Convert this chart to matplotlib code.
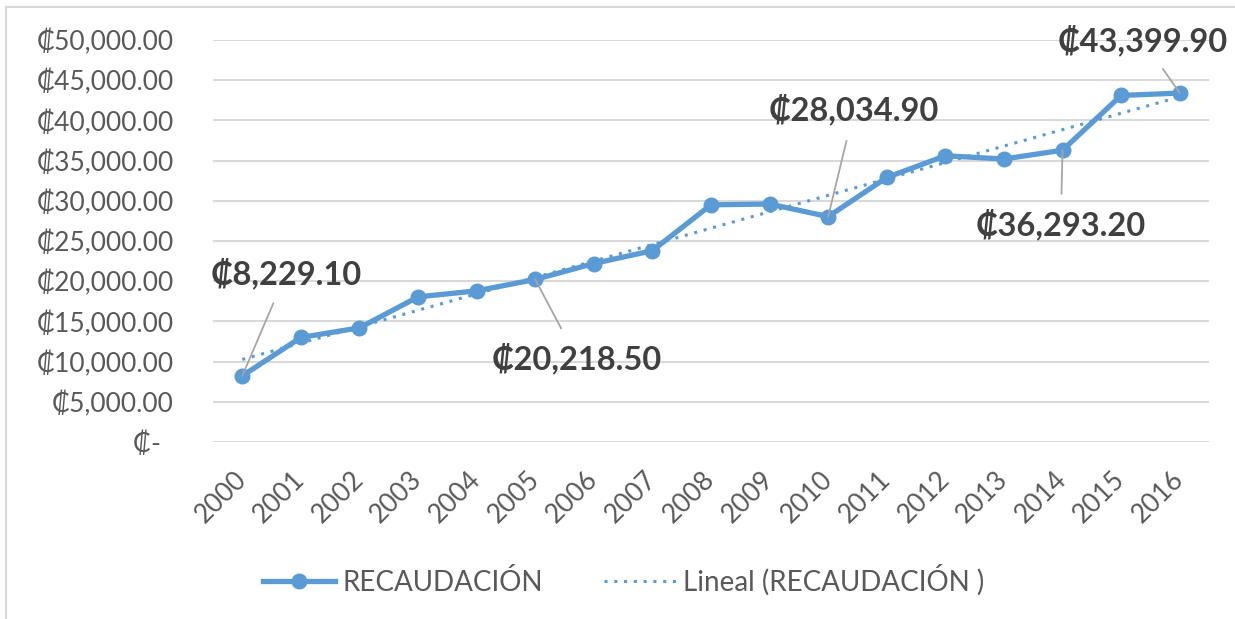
import matplotlib
matplotlib.use('Agg')
import matplotlib.pyplot as plt
import numpy as np

# Datos
years = ['2000', '2001', '2002', '2003', '2004', '2005', '2006', '2007', '2008',
         '2009', '2010', '2011', '2012', '2013', '2014', '2015', '2016']
recaudacion = [8229.10, 13000, 14200, 18050, 18800, 20218.50, 22200, 23800, 29500,
               29600, 28034.90, 32900, 35600, 35200, 36293.20, 43100, 43399.90]
y_ticks = [0, 5000, 10000, 15000, 20000, 25000, 30000, 35000, 40000, 45000, 50000]
y_tick_labels = ['₡-  ', '₡5,000.00', '₡10,000.00', '₡15,000.00', '₡20,000.00',
                 '₡25,000.00', '₡30,000.00', '₡35,000.00', '₡40,000.00',
                 '₡45,000.00', '₡50,000.00']
# etiquetas de datos: indice del punto, texto
labeled_points = [0, 5, 10, 14, 16]
label_texts = ['₡8,229.10', '₡20,218.50', '₡28,034.90', '₡36,293.20', '₡43,399.90']
# posicion del texto (x en indice, y en valor)
label_pos = [(0.75, 21000), (5.71, 10450), (10.44, 41300), (13.97, 27000), (15.37, 50000)]

FONT = ['Lato', 'DejaVu Sans']
BLUE = '#5B9BD5'
GRAY_TXT = '#595959'

plt.rcParams['font.family'] = FONT

fig = plt.figure(figsize=(12.35, 6.19), dpi=100)
ax = fig.add_axes([213 / 1235, 1 - 442 / 619, (1209 - 213) / 1235, (442 - 40) / 619])

x = np.arange(len(years))
line, = ax.plot(x, recaudacion, color=BLUE, lw=3.8, marker='o', markersize=10.5,
                label='RECAUDACIÓN', zorder=3)

# Linea de tendencia lineal
coef = np.polyfit(x, recaudacion, 1)
trend, = ax.plot(x, np.polyval(coef, x), color=BLUE, lw=2.2, linestyle=(0, (1, 2.2)),
                 label='Lineal (RECAUDACIÓN )', zorder=2)

ax.set_xlim(-0.5, len(years) - 0.5)
ax.set_ylim(0, 50000)
ax.set_yticks(y_ticks)
ax.set_yticklabels(y_tick_labels)
ax.set_xticks(x)
ax.set_xticklabels(years, rotation=45, ha='right', va='center', rotation_mode='anchor')

ax.grid(axis='y', color='#D9D9D9', lw=1.5)
ax.set_axisbelow(True)
for s in ax.spines.values():
    s.set_visible(False)
ax.tick_params(axis='both', length=0, labelsize=19, labelcolor=GRAY_TXT)
ax.tick_params(axis='y', pad=28)
ax.tick_params(axis='x', pad=24)

for idx, txt, pos in zip(labeled_points, label_texts, label_pos):
    ax.annotate(txt, xy=(idx, recaudacion[idx]), xytext=pos, ha='center', va='center',
                fontsize=23.5, fontweight='bold', color='#404040', annotation_clip=False,
                arrowprops=dict(arrowstyle='-', color='#A6A6A6', lw=1.3, shrinkA=9, shrinkB=0),
                zorder=4)

fig.legend(handles=[line, trend], loc='center', bbox_to_anchor=(0.505, 0.063), ncol=2,
           frameon=False, fontsize=20, labelcolor=GRAY_TXT, handlelength=2.6,
           columnspacing=2.2, handletextpad=0.25)

# borde del area del grafico
fig.add_artist(plt.Line2D([6 / 1235, 6 / 1235], [0, 1 - 7 / 619], color='#D9D9D9', lw=1.5))
fig.add_artist(plt.Line2D([6 / 1235, 1], [1 - 7 / 619, 1 - 7 / 619], color='#D9D9D9', lw=1.5))

plt.savefig('out.png', dpi=100)
plt.close()
